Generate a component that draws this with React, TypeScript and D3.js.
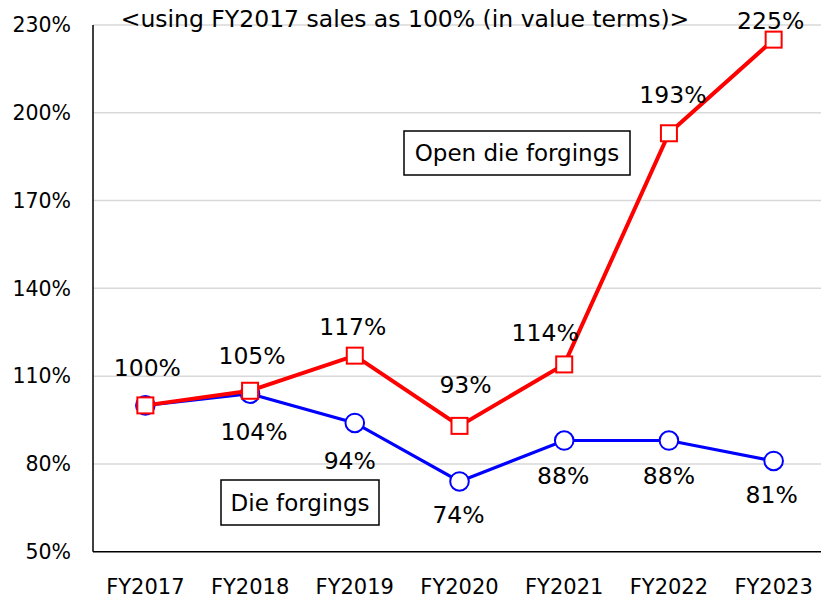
import React from "react";
import * as d3 from "d3";

const categories = ["FY2017", "FY2018", "FY2019", "FY2020", "FY2021", "FY2022", "FY2023"];
const dieForgings = [100, 104, 94, 74, 88, 88, 81];
const openDieForgings = [100, 105, 117, 93, 114, 193, 225];
const yTicks = [50, 80, 110, 140, 170, 200, 230];
const titleText = "<using FY2017 sales as 100% (in value terms)>";
const openLabel = "Open die forgings";
const dieLabel = "Die forgings";

// label offsets (pixels) relative to markers
const openLabelDx = [2, 2, -2, 6, -19, 4, -3];
const openLabelDy = [-38, -35, -29, -41, -32, -38, -19];
const dieLabelDx = [0, 4, -5, -1, -1, 0, -2];
const dieLabelDy = [0, 38, 38, 33, 35, 35, 34];

const W = 821;
const H = 600;
const FONT = "'DejaVu Sans', Verdana, sans-serif";

export default function App() {
  const x = d3.scaleBand<string>().domain(categories).range([93, 826]).padding(0);
  const cx = (c: string) => (x(c) as number) + x.bandwidth() / 2;
  const y = d3.scaleLinear().domain([50, 230]).range([551.7, 25]);

  const line = d3
    .line<number>()
    .x((_, i) => cx(categories[i]))
    .y((d) => y(d));

  return (
    <svg
      width={W}
      height={H}
      style={{ position: "absolute", left: 0, top: 0, background: "#fff" }}
      fontFamily={FONT}
    >
      <rect x={0} y={0} width={W} height={H} fill="#fff" />
      {/* gridlines */}
      {yTicks
        .filter((t) => t !== 50)
        .map((t) => (
          <line key={t} x1={93} x2={W} y1={y(t)} y2={y(t)} stroke="#d9d9d9" strokeWidth={1.5} />
        ))}
      {/* axes */}
      <line x1={93} x2={93} y1={y(230)} y2={y(50)} stroke="#000" strokeWidth={1.5} />
      <line x1={93} x2={W} y1={y(50)} y2={y(50)} stroke="#000" strokeWidth={1.5} />
      {/* y tick labels */}
      {yTicks.map((t) => (
        <text key={t} x={71} y={y(t)} dy="0.35em" textAnchor="end" fontSize={20.5} fill="#000">
          {t + "%"}
        </text>
      ))}
      {/* x tick labels */}
      {categories.map((c) => (
        <text key={c} x={cx(c)} y={587} dy="0.35em" textAnchor="middle" fontSize={21} fill="#000">
          {c}
        </text>
      ))}
      {/* title */}
      <text x={405} y={19} dy="0.35em" textAnchor="middle" fontSize={23.5} fill="#000">
        {titleText}
      </text>

      {/* Die forgings series */}
      <path d={line(dieForgings) as string} fill="none" stroke="#0000ff" strokeWidth={3.2} />
      {dieForgings.map((v, i) => (
        <circle key={i} cx={cx(categories[i])} cy={y(v)} r={9.3} fill="#fff" stroke="#0000ff" strokeWidth={2} />
      ))}

      {/* Open die forgings series */}
      <path d={line(openDieForgings) as string} fill="none" stroke="#ff0000" strokeWidth={4} />
      {openDieForgings.map((v, i) => (
        <rect
          key={i}
          x={cx(categories[i]) - 8}
          y={y(v) - 8}
          width={16}
          height={16}
          fill="#fff"
          stroke="#ff0000"
          strokeWidth={2}
        />
      ))}

      {/* data labels */}
      {dieForgings.map((v, i) =>
        i === 0 ? null : (
          <text
            key={"dl" + i}
            x={cx(categories[i]) + dieLabelDx[i]}
            y={y(v) + dieLabelDy[i]}
            dy="0.35em"
            textAnchor="middle"
            fontSize={23.5}
            fill="#000"
          >
            {v + "%"}
          </text>
        )
      )}
      {openDieForgings.map((v, i) => (
        <text
          key={"ol" + i}
          x={cx(categories[i]) + openLabelDx[i]}
          y={y(v) + openLabelDy[i]}
          dy="0.35em"
          textAnchor="middle"
          fontSize={23.5}
          fill="#000"
        >
          {v + "%"}
        </text>
      ))}

      {/* annotation boxes */}
      <rect x={404} y={131} width={226} height={44} fill="#fff" stroke="#000" strokeWidth={1.5} />
      <text x={517} y={153} dy="0.35em" textAnchor="middle" fontSize={23} fill="#000">
        {openLabel}
      </text>
      <rect x={221} y={480} width={158} height={45} fill="#fff" stroke="#000" strokeWidth={1.5} />
      <text x={300} y={502.5} dy="0.35em" textAnchor="middle" fontSize={23} fill="#000">
        {dieLabel}
      </text>
    </svg>
  );
}
